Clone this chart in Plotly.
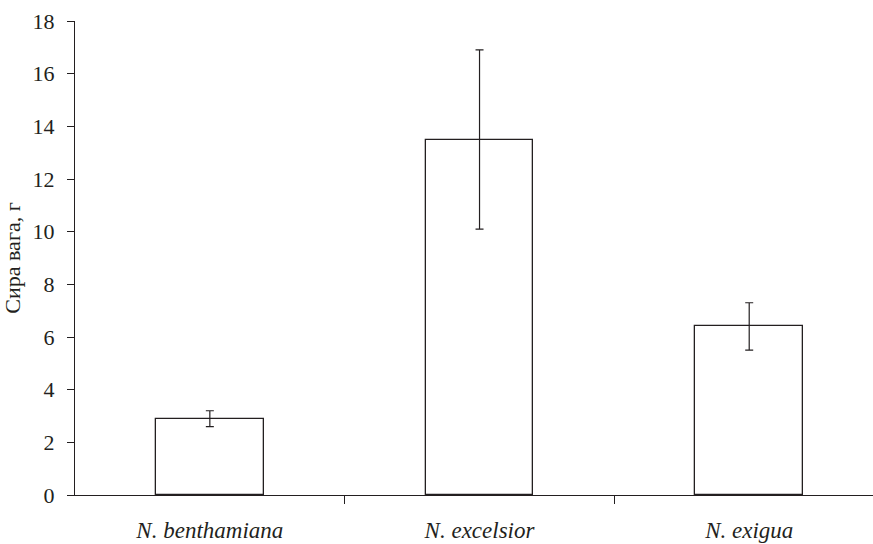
import plotly.graph_objects as go

categories = ["N. benthamiana", "N. excelsior", "N. exigua"]
values = [2.9, 13.5, 6.4]
errors = [0.3, 3.4, 0.9]
y_ticks = [0, 2, 4, 6, 8, 10, 12, 14, 16, 18]
y_title = "Сира вага, г"

xpos = list(range(len(categories)))
ink = "#231f20"
font_family = "Liberation Serif, Times New Roman, serif"

fig = go.Figure()
fig.add_trace(go.Bar(
    x=xpos, y=values, width=0.4,
    marker=dict(color="white", line=dict(color=ink, width=1.3)),
    error_y=dict(type="data", array=errors, visible=True, color=ink, thickness=1.2, width=4),
    showlegend=False,
))

fig.update_layout(
    width=873, height=544,
    margin=dict(l=75, r=0, t=21, b=49),
    paper_bgcolor="white", plot_bgcolor="white",
    font=dict(family=font_family, color=ink, size=22),
    bargap=0,
)
fig.update_xaxes(
    range=[-0.5, 2.459],
    tickvals=xpos, ticktext=categories,
    ticks="", showline=True, linecolor=ink, linewidth=1.2,
    showgrid=False, zeroline=False,
    tickfont=dict(family=font_family, size=23, style="italic", color=ink),
    ticklabelstandoff=14,
    minor=dict(tickvals=[0.5, 1.5], ticks="outside", ticklen=8, tickwidth=1.2, tickcolor=ink, showgrid=False),
)
fig.update_yaxes(
    range=[0, 18], tickvals=y_ticks,
    ticks="outside", ticklen=7, tickwidth=1.2, tickcolor=ink,
    showline=True, linecolor=ink, linewidth=1.2,
    showgrid=False, zeroline=False,
    ticklabelstandoff=8,
    tickfont=dict(family=font_family, size=22, color=ink),
    title=dict(text=y_title, font=dict(family=font_family, size=22, color=ink), standoff=6),
)

fig.write_html("out.html")
